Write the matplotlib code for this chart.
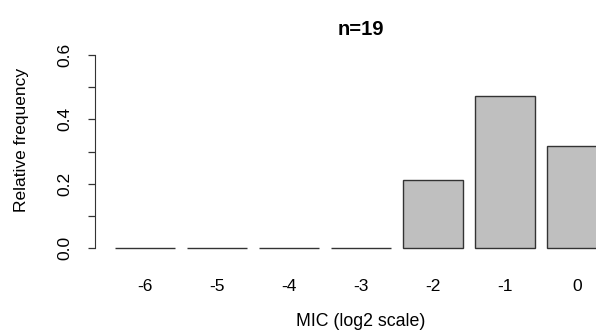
import numpy as np
import matplotlib
matplotlib.use("Agg")
import matplotlib.pyplot as plt

plt.rcParams['font.family'] = ['Liberation Sans', 'DejaVu Sans']

# MIC classes (log2) and isolate counts
mic_labels = ["-6", "-5", "-4", "-3", "-2", "-1", "0"]
counts = [0, 0, 0, 0, 4, 9, 6]

n_total = sum(counts)
rel_freq = np.array(counts) / n_total

W, H = 596, 334
fig = plt.figure(figsize=(W / 100, H / 100), dpi=100)
# plot region runs past the right edge like the cropped original
ax = fig.add_axes([95 / W, 78.3 / H, 532 / W, 208.4 / H])

# barplot-style positions: width 1, space 0.2
pos = 0.7 + 1.2 * np.arange(len(counts))
ax.bar(pos, rel_freq, width=1.0, color="#bfbfbf", edgecolor="#333333",
       linewidth=1.0)

ax.set_xlim(-0.128, 8.728)
ax.set_ylim(-0.024, 0.624)

for s in ["top", "right", "bottom"]:
    ax.spines[s].set_visible(False)
ax.spines["left"].set_bounds(0, 0.6)
ax.spines["left"].set_color("#333333")

ax.set_yticks([0.0, 0.2, 0.4, 0.6])
ax.set_yticklabels(["0.0", "0.2", "0.4", "0.6"], rotation=90, va="center")
ax.set_yticks([0.1, 0.3, 0.5], minor=True)
ax.tick_params(axis="y", which="both", length=5, width=0.9, color="#333333",
               labelsize=12.5, pad=11)

ax.set_xticks(pos)
ax.set_xticklabels(mic_labels)
ax.tick_params(axis="x", length=0, labelsize=12.5, pad=17)

ax.set_title("n=%d" % n_total, fontsize=14.5, fontweight="bold", pad=9)
fig.text(361 / W, 1 - 322 / H, "MIC (log2 scale)", ha="center", va="center",
         fontsize=12.8)
fig.text(22 / W, 1 - 140 / H, "Relative frequency", ha="center", va="center",
         rotation=90, fontsize=12.5)

fig.savefig("out.png", dpi=100)
